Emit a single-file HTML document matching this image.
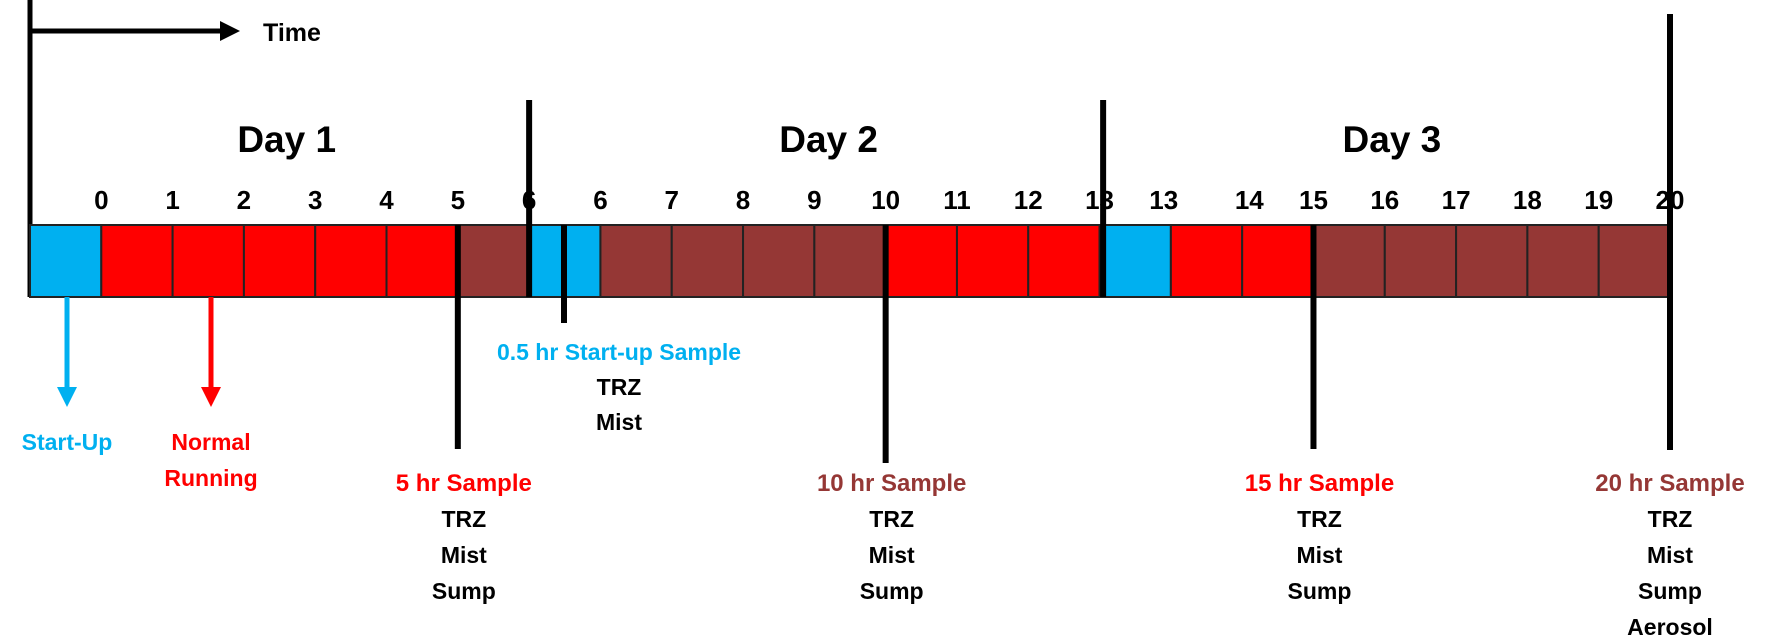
<!DOCTYPE html>
<html><head><meta charset="utf-8"><style>
html,body{margin:0;padding:0;background:#fff;}
svg{display:block;font-family:"Liberation Sans",sans-serif;font-weight:bold;}
</style></head><body>
<svg id="chart" width="1766" height="636" viewBox="0 0 1766 636" xmlns="http://www.w3.org/2000/svg">
<line x1="30" y1="0" x2="30" y2="297" stroke="#000" stroke-width="5"/>
<line x1="30" y1="31" x2="222" y2="31" stroke="#000" stroke-width="5"/>
<polygon points="220,21 240,31 220,41" fill="#000"/>
<text x="263" y="41" font-size="25" fill="#000">Time</text>
<g id="cells"></g>
<g id="overlay"></g>
</svg>
<script>
const cellPhases = ["S","N","N","N","N","N","B","S","B","B","B","B","N","N","N","S","N","N","B","B","B","B","B"];
const tickLabels = ["0","1","2","3","4","5","6","6","7","8","9","10","11","12","13","13","14","15","16","17","18","19","20"];
const tickCells = [1,2,3,4,5,6,7,8,9,10,11,12,13,14,15,15.9,17.1,18,19,20,21,22,23];
const dayLabels = ["Day 1","Day 2","Day 3"];
const dayCenters = [3.6,11.2,19.1];
const dayDividers = [7,15.05];
const sampleNames = ["5 hr Sample","10 hr Sample","15 hr Sample","20 hr Sample"];
const sampleCells = [6,12,18,23];
const sampleItems = [["TRZ","Mist","Sump"],["TRZ","Mist","Sump"],["TRZ","Mist","Sump"],["TRZ","Mist","Sump","Aerosol"]];
const sampleColors = ["#ff0000","#953735","#ff0000","#953735"];

const NS="http://www.w3.org/2000/svg";
const x0=30, cw=(1670-30)/23, barTop=225, barBot=297;
const xs=c=>x0+c*cw;
const colorOf={S:"#00b0f0",N:"#ff0000",B:"#953735"};
function mk(tag,attrs,parent){const e=document.createElementNS(NS,tag);for(const k in attrs)e.setAttribute(k,attrs[k]);parent.appendChild(e);return e;}
const cellsG=document.getElementById('cells'), ov=document.getElementById('overlay');
cellPhases.forEach((p,i)=>{
  const r=mk('rect',{x:xs(i),y:barTop,width:cw,height:barBot-barTop,fill:colorOf[p],stroke:"#222","stroke-width":2},cellsG);
  
  
});
tickLabels.forEach((t,i)=>{
  const e=mk('text',{x:xs(tickCells[i]),y:209,"font-size":26,"text-anchor":"middle"},ov);e.textContent=t;
  
  
});
dayLabels.forEach((d,i)=>{
  const e=mk('text',{x:xs(dayCenters[i]),y:152,"font-size":37,"text-anchor":"middle"},ov);e.textContent=d;
  
  
});
dayDividers.forEach(c=>{
  const l=mk('line',{x1:xs(c),y1:100,x2:xs(c),y2:barBot,stroke:"#000","stroke-width":6},ov);
  
  
});
const fl=mk('line',{x1:xs(23),y1:14,x2:xs(23),y2:450,stroke:"#000","stroke-width":6},ov);


sampleNames.forEach((s,i)=>{
  const x=xs(sampleCells[i]);
  const yEnd = i===1?463:449;
  const l=mk('line',{x1:x,y1:barTop,x2:x,y2:yEnd,stroke:"#000","stroke-width":6},ov);
  
  
  const tx = x + (i===3?0:6);
  const t=mk('text',{x:tx,y:491,"font-size":24,"text-anchor":"middle",fill:sampleColors[i]},ov);t.textContent=s;
  
  
  sampleItems[i].forEach((it,j)=>{
    const e=mk('text',{x:tx,y:527+j*36,"font-size":23,"text-anchor":"middle",fill:"#000"},ov);e.textContent=it;
    
    
  });
});
const sx=564;
const sl=mk('line',{x1:sx,y1:barTop,x2:sx,y2:323,stroke:"#000","stroke-width":6},ov);


const st=mk('text',{x:619,y:360,"font-size":23,"text-anchor":"middle",fill:"#00b0f0"},ov);st.textContent="0.5 hr Start-up Sample";


["TRZ","Mist"].forEach((it,j)=>{
  const e=mk('text',{x:619,y:395+j*35,"font-size":23,"text-anchor":"middle"},ov);e.textContent=it;
  
  
});
[[67,"#00b0f0",["Start-Up"]],[211,"#ff0000",["Normal","Running"]]].forEach(a=>{
  const l=mk('line',{x1:a[0],y1:barBot,x2:a[0],y2:390,stroke:a[1],"stroke-width":5},ov);
  
  
  const p=mk('polygon',{points:`${a[0]-10},387 ${a[0]+10},387 ${a[0]},407`,fill:a[1]},ov);
  
  
  a[2].forEach((w,j)=>{
    const e=mk('text',{x:a[0],y:450+j*36,"font-size":23,"text-anchor":"middle",fill:a[1]},ov);e.textContent=w;
    
    
  });
});
</script>
</body></html>
